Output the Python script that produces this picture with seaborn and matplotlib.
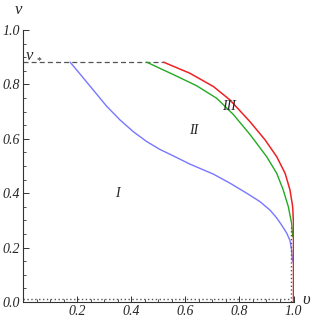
import matplotlib
matplotlib.use("Agg")
import matplotlib.pyplot as plt
import seaborn as sns
from matplotlib.ticker import MultipleLocator
from matplotlib.font_manager import FontProperties

sns.set_style("white")
plt.rcParams['font.family'] = ['Liberation Serif', 'DejaVu Serif']

# Data
nu_star = 0.882

blue_x = [0.174, 0.211, 0.260, 0.309, 0.359, 0.408, 0.457, 0.506, 0.556, 0.617,
          0.704, 0.765, 0.827, 0.876, 0.913, 0.938, 0.956, 0.975, 0.987, 0.993, 0.996]
blue_y = [0.882, 0.838, 0.779, 0.720, 0.669, 0.626, 0.590, 0.561, 0.537, 0.507,
          0.470, 0.437, 0.400, 0.369, 0.338, 0.309, 0.283, 0.253, 0.226, 0.191, 0.150]

green_x = [0.457, 0.506, 0.556, 0.642, 0.716, 0.777, 0.839, 0.901, 0.938, 0.962,
           0.981, 0.993, 0.997]
green_y = [0.882, 0.859, 0.836, 0.795, 0.749, 0.690, 0.616, 0.534, 0.473, 0.412,
           0.350, 0.289, 0.240]

red_x = [0.519, 0.617, 0.704, 0.765, 0.839, 0.895, 0.938, 0.969, 0.987, 0.997,
         1.000, 1.000, 1.000]
red_y = [0.882, 0.841, 0.792, 0.743, 0.663, 0.596, 0.534, 0.473, 0.412, 0.350,
         0.289, 0.154, 0.000]

dot_h_x = [0.0, 0.99]
dot_h_y = [0.012, 0.012]
dot_v_x = [0.99, 0.99]
dot_v_y = [0.0, 0.276]

region_labels = ["I", "II", "III"]
region_x = [0.35, 0.63, 0.76]
region_y = [0.40, 0.63, 0.72]

x_ticks = [0.2, 0.4, 0.6, 0.8, 1.0]
x_ticklabels = ["0.2", "0.4", "0.6", "0.8", "1.0"]
y_ticks = [0.0, 0.2, 0.4, 0.6, 0.8, 1.0]
y_ticklabels = ["0.0", "0.2", "0.4", "0.6", "0.8", "1.0"]

it = FontProperties(family="Liberation Serif", style="italic", size=10)
it_big = FontProperties(family="Liberation Serif", style="italic", size=12)

fig = plt.figure(figsize=(3.16, 3.2), dpi=100)
ax = fig.add_axes([0.0728, 0.05625, 0.8560, 0.85])

ax.plot([0, red_x[0]], [nu_star, nu_star], color="#555555", lw=0.9, ls=(0, (4, 2.5)))

sns.lineplot(x=blue_x, y=blue_y, sort=False, ax=ax, color="#7777ff", lw=1.0, estimator=None)
sns.lineplot(x=green_x, y=green_y, sort=False, ax=ax, color="#22aa22", lw=1.0, estimator=None)
sns.lineplot(x=red_x, y=red_y, sort=False, ax=ax, color="#ee2222", lw=1.1, estimator=None)

ax.plot(dot_h_x, dot_h_y, color="#555555", lw=1.0, ls=(0, (1, 1.8)))
ax.plot(dot_v_x, dot_v_y, color="#555555", lw=1.0, ls=(0, (1, 1.8)))

for t, x, y in zip(region_labels, region_x, region_y):
    ax.text(x, y, t, fontproperties=it, ha="center", va="center")

ax.text(0.012, nu_star + 0.022, "ν", fontproperties=it_big, ha="left", va="center")
ax.text(0.050, nu_star + 0.006, "*", fontsize=7, ha="left", va="center")

ax.set_xlim(0, 1.0)
ax.set_ylim(0, 1.0)
ax.xaxis.set_minor_locator(MultipleLocator(0.05))
ax.yaxis.set_minor_locator(MultipleLocator(0.05))
ax.set_xticks(x_ticks)
ax.set_xticklabels(x_ticklabels, fontproperties=it)
ax.set_yticks(y_ticks)
ax.set_yticklabels(y_ticklabels, fontproperties=it)
ax.tick_params(which="major", direction="in", length=4, width=0.7, pad=2, color="#333333")
ax.tick_params(which="minor", direction="in", length=2, width=0.6, color="#333333")
ax.tick_params(axis="x", which="both", bottom=True)
ax.tick_params(axis="y", which="both", left=True)

for s in ["top", "right"]:
    ax.spines[s].set_visible(False)
for s in ["left", "bottom"]:
    ax.spines[s].set_color("#333333")
    ax.spines[s].set_linewidth(0.8)

fig.text(18 / 316, 1 - 10 / 320, "ν", fontproperties=it_big, ha="center", va="center")
fig.text(306 / 316, 1 - 300 / 320, "υ", fontproperties=it_big, ha="center", va="center")

fig.savefig("out.png", dpi=100)
